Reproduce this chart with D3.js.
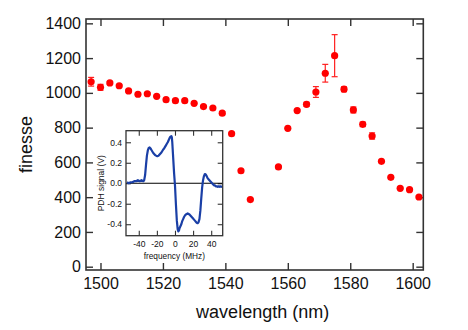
<!DOCTYPE html>
<html><head><meta charset="utf-8">
<script src="https://cdn.jsdelivr.net/npm/d3@7"></script>
<style>
html,body{margin:0;padding:0;background:#fff;}
svg{display:block;}
text{font-family:"Liberation Sans",Arial,Helvetica,sans-serif;fill:#111;}
</style></head>
<body>
<svg id="c" width="468" height="330"></svg>
<script>
// ---- main data: finesse vs wavelength ----
const wavelength = [1497,1500,1503,1506,1509,1512,1515,1518,1521,1524,1527,1530,1533,1536,1539,1542,1545,1548,
                    1557,1560,1563,1566,1569,1572,1575,1578,1581,1584,1587,1590,1593,1596,1599,1602];
const finesse =    [1064,1032,1057,1041,1011,992,995,980,961,955,955,940,921,913,883,765,552,386,
                    574,796,898,934,1005,1113,1214,1021,902,819,752,606,514,451,443,401];
const finesseErr = [25,17,8,6,5,5,5,5,5,5,5,5,5,5,8,4,4,4,
                    4,4,6,12,31,51,121,14,17,13,18,5,5,5,5,5];
const xTicks = [1500,1520,1540,1560,1580,1600];
const yTicks = [0,200,400,600,800,1000,1200,1400];

// ---- inset data: PDH error signal ----
const freqMHz = [-53,-51,-49,-47,-45,-43,-41,-39,-37,-35,-34,-33,-32,-31,-30,-29,-28,-27,-26,-25,-24,-23,-22,-21,-20,
  -19,-18,-17,-16,-15,-14,-13,-12,-11,-10,-9,-8,-7,-6,-5,-4,-3.5,-3,-2,-1,0,1,2,3,3.7,4.5,5,6,7,8,9,10,11,12,13,14,15,
  16,17,18,19,20,21,22,23,24,25,26,27,28,29,30,31,32,33,34,35,36,37,38,39,40,41,42,43,44,45,46,47,48,49,50,51,52];
const pdhV = [0.01,0.00,0.01,0.01,0.02,0.02,0.03,0.02,0.03,0.02,0.03,0.08,0.18,0.27,0.32,0.345,0.35,0.34,0.325,0.31,0.295,0.285,0.275,0.27,0.265,
  0.265,0.27,0.28,0.29,0.30,0.315,0.33,0.34,0.355,0.37,0.385,0.40,0.42,0.44,0.455,0.46,0.45,0.40,0.25,0.10,-0.02,-0.20,-0.36,-0.45,-0.47,-0.46,-0.44,-0.42,-0.40,-0.37,-0.35,-0.33,-0.315,-0.305,-0.30,-0.295,-0.30,
  -0.305,-0.315,-0.325,-0.335,-0.345,-0.355,-0.365,-0.375,-0.385,-0.39,-0.38,-0.35,-0.27,-0.15,-0.04,0.03,0.07,0.09,0.085,0.07,0.05,0.04,0.03,0.02,0.01,0.00,-0.01,-0.02,-0.02,-0.03,-0.03,-0.035,-0.03,-0.035,-0.03,-0.035,-0.03];
const insetXTicks = [-40,-20,0,20,40];
const insetYTicks = [-0.4,-0.2,0,0.2,0.4];

const svg = d3.select("#c");
const L=86, R=423.3, T=19, B=270;
const x = d3.scaleLinear().domain([1495.36,1603.4]).range([L,R]);
const y = d3.scaleLinear().domain([-19,1425]).range([B,T]);
const frameColor = "#333";

function styleAxis(g, fs){
  g.select(".domain").remove();
  g.selectAll(".tick line").attr("stroke",frameColor).attr("stroke-width",1.4);
  g.selectAll(".tick text").attr("font-size",fs).style("fill","#111");
}

// main axes
svg.append("g").attr("transform",`translate(${L},0)`)
  .call(d3.axisLeft(y).tickValues(yTicks).tickSize(-7).tickPadding(5).tickFormat(d3.format("d")))
  .call(g=>styleAxis(g,"16px"));
svg.append("g").attr("transform",`translate(${R},0)`)
  .call(d3.axisRight(y).tickValues(yTicks).tickSize(-7).tickFormat(""))
  .call(g=>styleAxis(g,"16px"));
svg.append("g").attr("transform",`translate(0,${B})`)
  .call(d3.axisBottom(x).tickValues(xTicks).tickSize(-7).tickPadding(8).tickFormat(d3.format("d")))
  .call(g=>styleAxis(g,"16px"));
svg.append("g").attr("transform",`translate(0,${T})`)
  .call(d3.axisTop(x).tickValues(xTicks).tickSize(-7).tickFormat(""))
  .call(g=>styleAxis(g,"16px"));
svg.append("rect").attr("x",L).attr("y",T).attr("width",R-L).attr("height",B-T)
  .attr("fill","none").attr("stroke",frameColor).attr("stroke-width",1.6);

svg.append("text").attr("x",(L+R)/2+8).attr("y",318).attr("text-anchor","middle")
  .attr("font-size","18px").text("wavelength (nm)");
svg.append("text").attr("transform",`translate(32,${(T+B)/2}) rotate(-90)`).attr("text-anchor","middle")
  .attr("font-size","18px").text("finesse");

// main data
const pts = wavelength.map((w,i)=>({w,f:finesse[i],e:finesseErr[i]}));
const eb = svg.append("g").attr("stroke","#ff2020").attr("stroke-width",1.2);
pts.forEach(p=>{
  const cx=x(p.w), y0=y(p.f-p.e), y1=y(p.f+p.e);
  eb.append("line").attr("x1",cx).attr("x2",cx).attr("y1",y0).attr("y2",y1);
  eb.append("line").attr("x1",cx-3).attr("x2",cx+3).attr("y1",y0).attr("y2",y0);
  eb.append("line").attr("x1",cx-3).attr("x2",cx+3).attr("y1",y1).attr("y2",y1);
});
svg.append("g").selectAll("circle").data(pts).join("circle")
  .attr("cx",d=>x(d.w)).attr("cy",d=>y(d.f)).attr("r",3.6).attr("fill","#ff0000");

// ---- inset ----
const iL=126, iR=222.7, iT=130.7, iB=235.7;
const ix = d3.scaleLinear().domain([-54.1,52.7]).range([iL,iR]);
const iy = d3.scaleLinear().domain([-0.512,0.513]).range([iB,iT]);
const ins = svg.append("g");
ins.append("rect").attr("x",iL).attr("y",iT).attr("width",iR-iL).attr("height",iB-iT).attr("fill","#fff");
const fmtY = d=> d3.format(".1f")(d).replace("\u2212","-");
const fmtX = d=> String(d);
ins.append("g").attr("transform",`translate(${iL},0)`)
  .call(d3.axisLeft(iy).tickValues(insetYTicks).tickSize(-5).tickPadding(4).tickFormat(fmtY))
  .call(g=>styleAxis(g,"8.5px"));
ins.append("g").attr("transform",`translate(${iR},0)`)
  .call(d3.axisRight(iy).tickValues(insetYTicks).tickSize(-5).tickFormat(""))
  .call(g=>styleAxis(g,"8.5px"));
ins.append("g").attr("transform",`translate(0,${iB})`)
  .call(d3.axisBottom(ix).tickValues(insetXTicks).tickSize(-5).tickPadding(5).tickFormat(fmtX))
  .call(g=>styleAxis(g,"8.5px"));
ins.append("g").attr("transform",`translate(0,${iT})`)
  .call(d3.axisTop(ix).tickValues(insetXTicks).tickSize(-5).tickFormat(""))
  .call(g=>styleAxis(g,"8.5px"));
ins.selectAll(".tick line").attr("stroke-width",1.1);
ins.append("line").attr("x1",iL).attr("x2",iR).attr("y1",iy(0)).attr("y2",iy(0))
  .attr("stroke","#000").attr("stroke-width",1.2);
const line = d3.line().x((d,i)=>ix(freqMHz[i])).y(d=>iy(d));
ins.append("path").datum(pdhV).attr("d",line).attr("fill","none")
  .attr("stroke","#1a3fa6").attr("stroke-width",2.2).attr("stroke-linejoin","round");
ins.append("rect").attr("x",iL).attr("y",iT).attr("width",iR-iL).attr("height",iB-iT)
  .attr("fill","none").attr("stroke",frameColor).attr("stroke-width",1.3);
ins.append("text").attr("x",(iL+iR)/2).attr("y",258.5).attr("text-anchor","middle")
  .attr("font-size","8.3px").text("frequency (MHz)");
ins.append("text").attr("transform",`translate(104,${(iT+iB)/2}) rotate(-90)`).attr("text-anchor","middle")
  .attr("font-size","8.5px").text("PDH signal (V)");
</script>
</body></html>
